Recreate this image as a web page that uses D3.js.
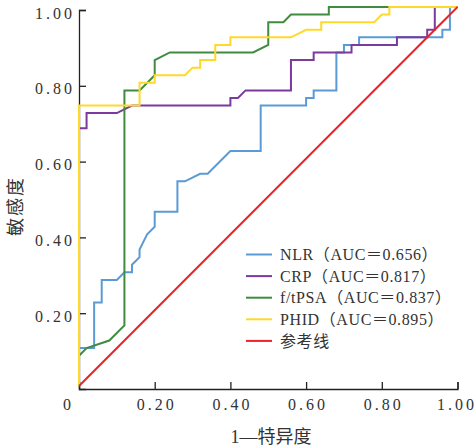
<!DOCTYPE html>
<html>
<head>
<meta charset="utf-8">
<title>ROC</title>
<style>
  body { margin: 0; background: #fff; }
  svg { display: block; }
  .tick text { font-family: "Liberation Serif", "DejaVu Serif", serif; font-size: 16px; letter-spacing: 3px; fill: #333; }
  .lbl { font-family: "Liberation Serif", "Noto Sans CJK SC", serif; fill: #333; }
</style>
</head>
<body>
<div id="chart"></div>
<script src="https://cdnjs.cloudflare.com/ajax/libs/d3/7.8.5/d3.min.js"></script>
<script>
// ROC points [1-specificity, sensitivity]
var nlrPoints = [[0,0],[0,0.10],[0.04,0.10],[0.04,0.22],[0.06,0.22],[0.06,0.28],[0.10,0.28],[0.12,0.30],[0.14,0.30],[0.14,0.32],[0.16,0.34],[0.16,0.36],[0.18,0.40],[0.20,0.42],[0.20,0.46],[0.26,0.46],[0.26,0.54],[0.28,0.54],[0.32,0.56],[0.34,0.56],[0.40,0.62],[0.48,0.62],[0.48,0.74],[0.60,0.74],[0.60,0.76],[0.62,0.76],[0.62,0.78],[0.68,0.78],[0.68,0.88],[0.70,0.88],[0.70,0.90],[0.74,0.90],[0.74,0.92],[0.96,0.92],[0.96,0.94],[0.98,0.94],[0.98,1],[1,1]];
var crpPoints = [[0,0],[0,0.68],[0.02,0.68],[0.02,0.72],[0.10,0.72],[0.14,0.74],[0.40,0.74],[0.40,0.76],[0.42,0.76],[0.44,0.78],[0.56,0.78],[0.56,0.86],[0.62,0.86],[0.62,0.88],[0.72,0.88],[0.72,0.90],[0.84,0.90],[0.84,0.92],[0.92,0.92],[0.92,0.94],[0.94,0.94],[0.94,1],[1,1]];
var psaPoints = [[0,0],[0,0.08],[0.02,0.10],[0.08,0.12],[0.12,0.16],[0.12,0.78],[0.16,0.78],[0.20,0.82],[0.20,0.86],[0.24,0.88],[0.46,0.88],[0.50,0.90],[0.50,0.96],[0.54,0.96],[0.56,0.98],[0.66,0.98],[0.66,1],[1,1]];
var phidPoints = [[0,0],[0,0.74],[0.16,0.74],[0.16,0.80],[0.20,0.80],[0.20,0.82],[0.28,0.82],[0.30,0.84],[0.32,0.84],[0.32,0.86],[0.36,0.86],[0.36,0.90],[0.40,0.90],[0.40,0.92],[0.56,0.92],[0.60,0.94],[0.64,0.94],[0.64,0.96],[0.78,0.96],[0.80,0.98],[0.82,0.98],[0.82,1],[1,1]];
var refPoints = [[0,0],[1,1]];

var seriesNames = ["NLR（AUC＝0.656）", "CRP（AUC＝0.817）", "f/tPSA（AUC＝0.837）", "PHID（AUC＝0.895）", "参考线"];
var seriesColors = ["#5b9bd5", "#7a3a9e", "#3f8c3f", "#ffd92a", "#e8232a"];
var tickValues = [0.2, 0.4, 0.6, 0.8, 1.0];

var svg = d3.select("#chart").append("svg")
    .attr("width", 476).attr("height", 447);

var x = d3.scaleLinear().domain([0, 1]).range([79, 457.5]);
var y = d3.scaleLinear().domain([0, 1]).range([386, 7]);

// axes sit a few px below the plotted curves, like the original figure
var axes = svg.append("g").attr("transform", "translate(0,3)");

var xAxis = axes.append("g")
    .attr("transform", "translate(0," + y(0) + ")")
    .call(d3.axisBottom(x).tickValues([0].concat(tickValues)).tickSize(-7).tickPadding(10)
      .tickFormat(function (d) { return d === 0 ? "0" : d3.format(".2f")(d); }));
xAxis.selectAll(".tick text").attr("dx", function (d) { return d === 0 ? -11 : (d === 1 ? -1 : 1.5); });

var yAxis = axes.append("g")
    .attr("transform", "translate(" + x(0) + ",0)")
    .call(d3.axisLeft(y).tickValues(tickValues).tickSize(-7).tickPadding(4).tickFormat(d3.format(".2f")));
yAxis.selectAll(".tick text").attr("dy", "0.5em");

axes.selectAll(".domain, .tick line").attr("stroke", "#222").attr("stroke-width", 1.3);

var line = d3.line().x(function (d) { return x(d[0]); }).y(function (d) { return y(d[1]); });

var allSeries = [nlrPoints, crpPoints, psaPoints, phidPoints, refPoints];
svg.append("g").selectAll("path")
    .data(allSeries)
    .enter().append("path")
    .attr("d", line)
    .attr("fill", "none")
    .attr("stroke", function (d, i) { return seriesColors[i]; })
    .attr("stroke-width", 2);

// legend
var legend = svg.append("g").selectAll("g")
    .data(seriesNames)
    .enter().append("g")
    .attr("transform", function (d, i) { return "translate(246," + (254.5 + i * 21.6) + ")"; });
legend.append("line")
    .attr("x1", 0).attr("x2", 26)
    .attr("stroke", function (d, i) { return seriesColors[i]; })
    .attr("stroke-width", 2);
legend.append("text")
    .attr("class", "lbl")
    .attr("x", 34).attr("dy", "0.35em")
    .style("font-size", "16px")
    .style("letter-spacing", "0.6px")
    .text(function (d) { return d; });

// axis titles
svg.append("text")
    .attr("class", "lbl")
    .attr("x", 271).attr("y", 443)
    .attr("text-anchor", "middle")
    .style("font-size", "18px")
    .text("1—特异度");

svg.append("text")
    .attr("class", "lbl")
    .attr("transform", "translate(22,206) rotate(-90)")
    .attr("text-anchor", "middle")
    .style("font-size", "18px")
    .style("letter-spacing", "2px")
    .text("敏感度");
</script>
</body>
</html>
